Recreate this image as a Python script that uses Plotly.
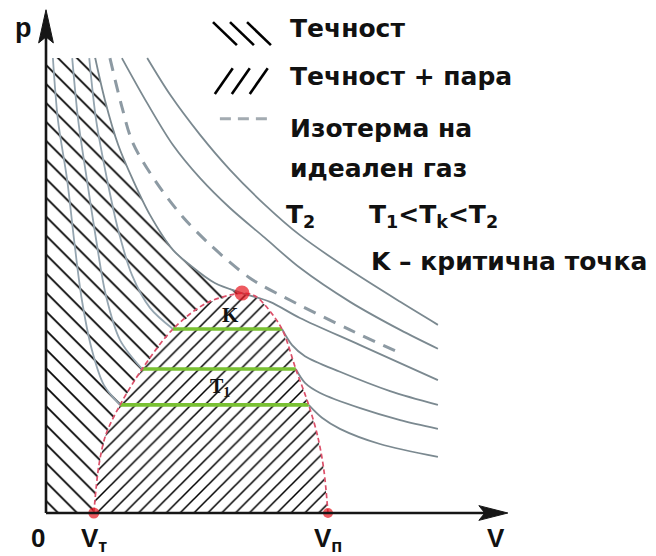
import plotly.graph_objects as go

# ---------------------------------------------------------------
# p-V diagram of a real gas (Andrews isotherms), arbitrary units
# ---------------------------------------------------------------

# Supercritical isotherms (T2 side)
hot_a_v = [22.0, 27.0, 33.5, 40.0, 47.6, 55.2, 66.1, 77.0, 85.2]
hot_a_p = [98.9, 90.9, 82.2, 74.6, 67.0, 60.4, 52.8, 45.9, 40.9]
hot_b_v = [16.5, 22.0, 27.6, 33.5, 40.0, 47.6, 55.2, 66.1, 77.0, 85.2]
hot_b_p = [98.9, 89.1, 80.0, 72.8, 66.3, 59.8, 53.3, 45.9, 39.8, 35.7]

# Ideal-gas isotherm
ideal_v = [13.9, 16.5, 18.9, 24.1, 29.8, 35.7, 44.3, 53.0, 66.1, 77.4]
ideal_p = [98.9, 88.3, 80.4, 71.7, 64.3, 58.3, 51.1, 46.3, 39.8, 34.6]

# Critical isotherm (passes through K)
crit_v = [10.7, 12.8, 15.7, 18.9, 22.6, 27.6, 31.3, 36.7, 42.6, 48.7, 55.2, 68.3, 85.2]
crit_p = [98.9, 89.8, 80.0, 72.4, 64.8, 57.2, 53.9, 50.0, 47.8, 45.9, 42.4, 36.5, 28.9]
K_INDEX = 8

# Saturation dome: liquid branch and vapour branch
dome_left_v = [10.4, 11.5, 13.0, 16.1, 20.9, 27.6, 35.0, 42.6]
dome_left_p = [0.0, 10.4, 17.0, 23.5, 31.3, 40.0, 45.7, 47.8]
dome_right_v = [42.6, 45.4, 47.6, 51.3, 54.3, 57.1, 59.1, 60.4, 61.3]
dome_right_p = [47.8, 47.2, 45.2, 40.0, 31.3, 23.5, 16.5, 9.4, 0.0]

# Two-phase (horizontal) segments of the T1 isotherms
tie_p = [40.0, 31.3, 23.5]
tie_left_v = [27.6, 20.9, 16.1]
tie_right_v = [51.3, 54.3, 57.1]

# Subcritical isotherms: liquid branch (above the dome's left side)
liq1_v = [9.4, 10.9, 13.3, 15.7, 18.7, 22.6, 27.6]
liq1_p = [98.9, 85.4, 72.4, 61.5, 51.7, 44.6, 40.0]
liq2_v = [5.7, 7.0, 8.9, 10.9, 13.0, 16.1, 20.9]
liq2_p = [98.9, 85.4, 72.4, 59.4, 47.4, 37.6, 31.3]
liq3_v = [1.5, 2.6, 4.6, 6.1, 7.8, 10.0, 12.6, 16.1]
liq3_p = [98.9, 85.4, 72.4, 59.4, 46.3, 35.4, 27.8, 23.5]

# Subcritical isotherms: vapour branch (right of the dome)
vap1_v = [51.3, 53.5, 56.3, 63.9, 74.8, 85.2]
vap1_p = [40.0, 36.5, 34.1, 30.7, 26.5, 23.5]
vap2_v = [54.3, 56.3, 59.6, 68.3, 77.0, 85.2]
vap2_p = [31.3, 28.3, 26.1, 22.8, 20.2, 18.3]
vap3_v = [57.1, 60.0, 63.9, 72.6, 85.2]
vap3_p = [23.5, 20.7, 18.3, 15.0, 12.2]

# Marked points
v_liquid = 10.4   # V_т
v_vapour = 61.3   # V_п
k_point = (42.6, 47.8)

P_TOP = 98.9

# ---------------------------------------------------------------
ISO_GRAY = "#7b8990"
ISO_LIGHT = "#95a5b0"
HATCH = "#000000"
RED_DASH = "#dc4f69"
GREEN = "#79c132"
DOT_RED = "#e5141c"
AXIS = "#161616"

fig = go.Figure()


def curve(v, p, color=ISO_GRAY, width=1.8, dash="solid", shape="spline"):
    fig.add_trace(go.Scatter(
        x=v, y=p, mode="lines", hoverinfo="skip", showlegend=False,
        line=dict(color=color, width=width, dash=dash, shape=shape, smoothing=0.9),
    ))


# Liquid region: y-axis, top edge, critical isotherm down to K, liquid branch to V_т
liq_v = [0.0, 0.0] + crit_v[:K_INDEX + 1] + dome_left_v[-2::-1] + [0.0]
liq_p = [0.0, P_TOP] + crit_p[:K_INDEX + 1] + dome_left_p[-2::-1] + [0.0]
fig.add_trace(go.Scatter(
    x=liq_v, y=liq_p, mode="lines", fill="toself", hoverinfo="skip", showlegend=False,
    line=dict(width=0, color="rgba(0,0,0,0)"),
    fillcolor="rgba(0,0,0,0)",
    fillpattern=dict(shape="\\", size=13.4, solidity=0.13, fgcolor=HATCH,
                     fgopacity=1, bgcolor="rgba(0,0,0,0)"),
))

# Liquid + vapour region under the dome
dome_v = dome_left_v + dome_right_v[1:]
dome_p = dome_left_p + dome_right_p[1:]
fig.add_trace(go.Scatter(
    x=dome_v, y=dome_p, mode="lines", fill="toself", hoverinfo="skip", showlegend=False,
    line=dict(width=0, color="rgba(0,0,0,0)"),
    fillcolor="rgba(0,0,0,0)",
    fillpattern=dict(shape="/", size=9.8, solidity=0.155, fgcolor=HATCH,
                     fgopacity=1, bgcolor="rgba(0,0,0,0)"),
))

# Isotherms
for v, p in [(liq1_v, liq1_p), (liq2_v, liq2_p), (liq3_v, liq3_p)]:
    curve(v, p, color=ISO_LIGHT)
for v, p in [(vap1_v, vap1_p), (vap2_v, vap2_p), (vap3_v, vap3_p),
             (crit_v, crit_p), (hot_a_v, hot_a_p), (hot_b_v, hot_b_p)]:
    curve(v, p)
curve(ideal_v, ideal_p, color="#8d9aa3", width=3, dash="13px,9px")

# Horizontal segments in the two-phase region
for pv, lv, rv in zip(tie_p, tie_left_v, tie_right_v):
    curve([lv, rv], [pv, pv], color=GREEN, width=3.6, shape="linear")

# Saturation dome outline
curve(dome_v, dome_p, color=RED_DASH, width=1.7, dash="5px,3px")

# Axes with arrow heads
fig.add_shape(type="line", x0=0, y0=0, x1=96.5, y1=0, line=dict(color=AXIS, width=2.6))
fig.add_shape(type="line", x0=0, y0=0, x1=0, y1=104.0, line=dict(color=AXIS, width=2.6))
fig.add_shape(type="path", path="M 100.4,0 L 94.1,1.6 L 95.4,0 L 94.1,-1.6 Z",
              fillcolor=AXIS, line=dict(color=AXIS, width=1))
fig.add_shape(type="path", path="M 0,109.4 L 1.6,102.2 L 0,103.5 L -1.6,102.2 Z",
              fillcolor=AXIS, line=dict(color=AXIS, width=1))

# Marked points
fig.add_trace(go.Scatter(
    x=[v_liquid, v_vapour, k_point[0]], y=[0, 0, k_point[1]], mode="markers",
    hoverinfo="skip", showlegend=False,
    marker=dict(color=DOT_RED, size=[11, 10, 15], line=dict(width=0)),
))

# Legend keys
for x0 in [36.3, 40.0, 43.7]:
    curve([x0, x0 + 5.2], [106.7, 101.7], color=HATCH, width=2.6, shape="linear")
for x0 in [36.7, 40.4, 44.3]:
    curve([x0, x0 + 3.9], [91.1, 96.7], color=HATCH, width=2.6, shape="linear")
curve([37.8, 48.7], [85.7, 85.7], color="#a3abb1", width=3, dash="11px,7px", shape="linear")

# Texts
SANS = "DejaVu Sans"
AXIS_FONT = "Liberation Sans"
BIG = 25


def label(x, y, text, size=BIG, xanchor="left", yanchor="top", family=SANS, weight="bold"):
    fig.add_annotation(
        x=x, y=y, xref="x", yref="y", text=text, showarrow=False,
        xanchor=xanchor, yanchor=yanchor,
        font=dict(family=family, size=size, color="#111111", weight=weight),
    )


label(52.6, 108.9, "Течност")
label(52.6, 98.5, "Течност + пара")
label(52.6, 87.2, "Изотерма на")
label(52.6, 78.5, "идеален газ")
label(51.8, 68.5, "T<sub>2</sub>")
label(69.8, 68.5, "T<sub>1</sub>&lt;T<sub>k</sub>&lt;T<sub>2</sub>")
label(70.2, 58.3, "K – критична точка")

label(-5.0, 109.2, "p", size=27, xanchor="center", family=AXIS_FONT)
label(-1.7, -1.7, "0", size=26, xanchor="center", family=AXIS_FONT)
label(v_liquid, -1.7, "V<sub>т</sub>", size=26, xanchor="center", family=AXIS_FONT)
label(v_vapour, -1.7, "V<sub>п</sub>", size=26, xanchor="center", family=AXIS_FONT)
label(97.8, -1.7, "V", size=26, xanchor="center", family=AXIS_FONT)

label(40.0, 43.0, "K", size=21, xanchor="center", yanchor="middle",
      family="Liberation Serif", weight="bold")
label(37.8, 27.2, "T<sub>1</sub>", size=20, xanchor="center", yanchor="middle",
      family="Liberation Serif", weight="bold")

fig.update_layout(
    width=656, height=556,
    margin=dict(l=0, r=0, t=0, b=0),
    paper_bgcolor="white", plot_bgcolor="white",
    showlegend=False,
    xaxis=dict(visible=False, range=[-10.0, 132.609], fixedrange=True),
    yaxis=dict(visible=False, range=[-9.348, 111.522], fixedrange=True),
)

fig.write_html("out.html", config={"displayModeBar": False})
